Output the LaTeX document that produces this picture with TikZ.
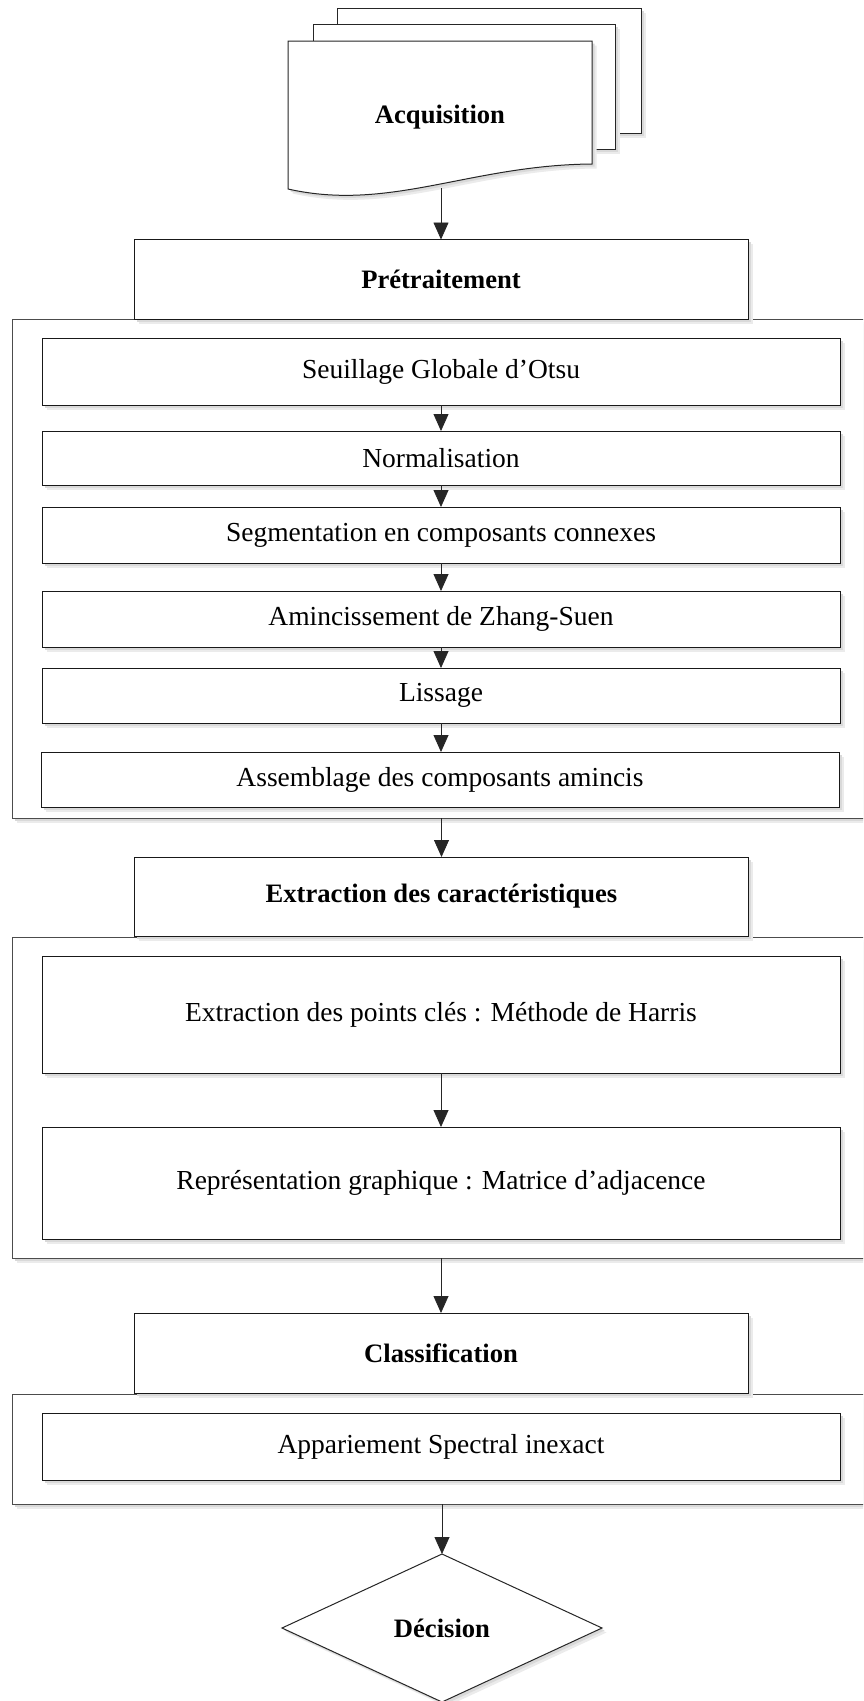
\documentclass[tikz,border=0pt]{standalone}
\usepackage{fontspec}
\setmainfont{Liberation Serif}
\usetikzlibrary{shapes.geometric,shadows,arrows.meta}

\tikzset{
  % soft shadow built from two offset layers
  shade/.style={
    drop shadow={shadow xshift=4.5pt,shadow yshift=-4.5pt,fill=black!8,opacity=1},
    drop shadow={shadow xshift=2.5pt,shadow yshift=-2.5pt,fill=black!15,opacity=1}},
  stepbox/.style={draw=black!90,line width=1pt,fill=white,shade,inner sep=0pt,outer sep=0pt,
    font=\fontsize{27.5}{33}\selectfont,align=center},
  headbox/.style={stepbox,font=\fontsize{26.6}{32}\selectfont\bfseries,
    minimum width=614pt,minimum height=80pt},
  groupbox/.style={draw=black!70,line width=1pt,fill=white,shade,inner sep=0pt,outer sep=0pt,
    minimum width=870pt},
  innerbox/.style={stepbox,minimum width=798pt},
  docpage/.style={draw=black!85,line width=1pt,fill=white,shade},
  arr/.style={draw=black!85,line width=0.8pt,-{Triangle[width=15pt,length=17pt]}},
}

\begin{document}
\begin{tikzpicture}[x=1pt,y=-1pt]
\useasboundingbox (0,0) rectangle (863,1701);
\clip (0,0) rectangle (863,1701);
\fill[white] (0,0) rectangle (863,1701);

% stack of documents for the acquisition step
\path[docpage] (337,8) rectangle (641,133);
\path[docpage] (313,24) rectangle (615,149);
\path[docpage] (288,41) -- (592,41) -- (592,164)
  .. controls (470,165) and (390,212) .. (288,189) -- cycle;
\node[font=\fontsize{26.6}{32}\selectfont\bfseries] (acq) at (440,117) {Acquisition};
\coordinate (acqbot) at (441,188);

% preprocessing group
\node[groupbox,minimum height=499pt] (g1) at (447,568.5) {};
\node[headbox] (pre) at (441,279.5) {Prétraitement};
\node[innerbox,minimum height=67pt] (s1) at (441,371.5) {Seuillage Globale d’Otsu};
\node[innerbox,minimum height=54pt] (s2) at (441,458) {Normalisation};
\node[innerbox,minimum height=56pt] (s3) at (441,535) {Segmentation en composants connexes};
\node[innerbox,minimum height=56pt] (s4) at (441,619) {Amincissement de Zhang-Suen};
\node[innerbox,minimum height=55pt] (s5) at (441,695.5) {Lissage};
\node[innerbox,minimum height=55pt] (s6) at (440,779.5) {Assemblage des composants amincis};

% feature extraction group
\node[groupbox,minimum height=321pt] (g2) at (447,1097.5) {};
\node[headbox,minimum height=79pt] (ext) at (441.5,896.5) {Extraction des caractéristiques};
\node[innerbox,minimum height=117pt] (f1) at (441,1014.5) {Extraction des points clés : Méthode de Harris};
\node[innerbox,minimum height=112pt] (f2) at (441,1183) {Représentation graphique : Matrice d’adjacence};

% classification group
\node[groupbox,minimum height=110pt] (g3) at (447,1449) {};
\node[headbox] (cls) at (441,1353) {Classification};
\node[innerbox,minimum height=67pt] (c1) at (441,1446.5) {Appariement Spectral inexact};

% decision
\node[diamond,draw=black!85,line width=1pt,fill=white,shade,inner sep=0pt,outer sep=0pt,
  minimum width=320pt,minimum height=148pt,aspect=2,
  font=\fontsize{26.6}{32}\selectfont\bfseries] (dec) at (442,1628) {Décision};

% connectors
\draw[arr] (acqbot) -- (pre.north);
\draw[arr] (s1.south) -- (s2.north);
\draw[arr] (s2.south) -- (s3.north);
\draw[arr] (s3.south) -- (s4.north);
\draw[arr] (s4.south) -- (s5.north);
\draw[arr] (s5.south) -- (s6.north -| s5.south);
\draw[arr] (g1.south -| ext.north) -- (ext.north);
\draw[arr] (f1.south) -- (f2.north);
\draw[arr] (g2.south -| cls.north) -- (cls.north);
\draw[arr] (g3.south -| dec.north) -- (dec.north);
\end{tikzpicture}
\end{document}
